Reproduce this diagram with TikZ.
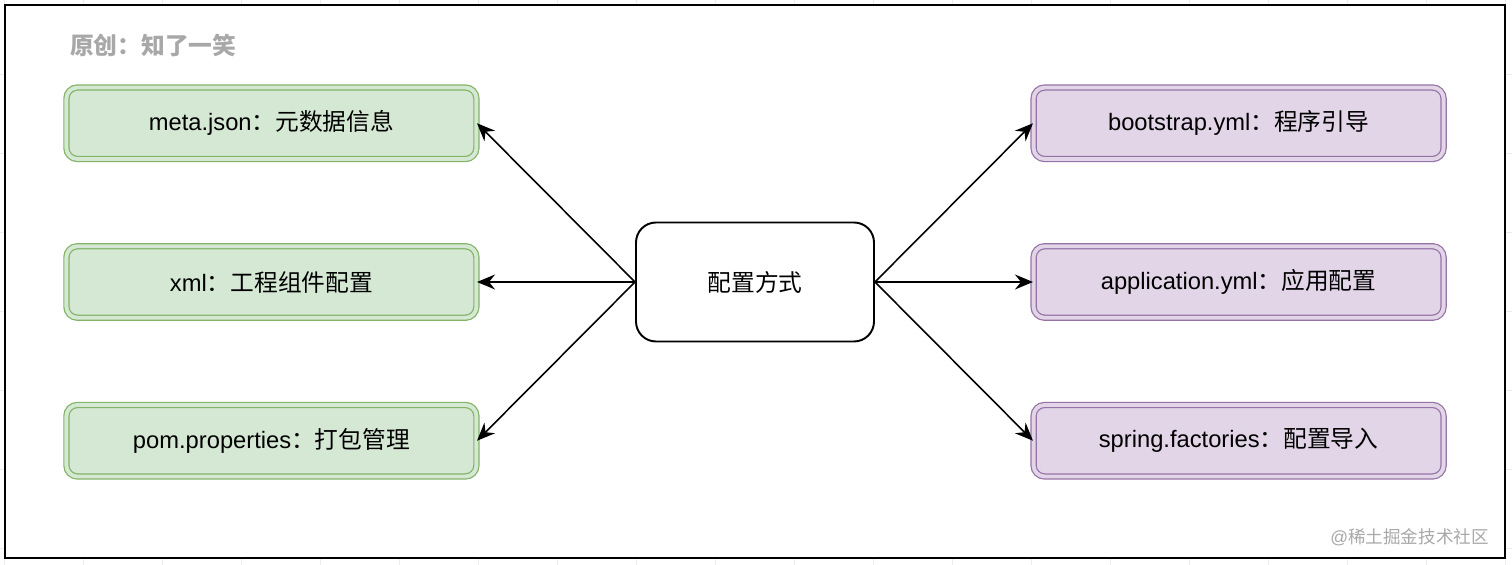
\documentclass[tikz,border=0pt]{standalone}
\usepackage{fontspec}
\setmainfont{Liberation Sans}
\newfontfamily\cjk{Noto Sans CJK SC}
\usepackage{xcolor}
\usepackage{tikz}
\usetikzlibrary{positioning,arrows.meta}
\definecolor{CfgGreen}{HTML}{D5E8D4}
\definecolor{CfgGreenLine}{HTML}{82B366}
\definecolor{CfgPurple}{HTML}{E1D5E7}
\definecolor{CfgPurpleLine}{HTML}{9673A6}
\definecolor{CfgGrey}{HTML}{A8A8A8}
\definecolor{CfgGrid}{HTML}{EDEDED}
\tikzset{
  greencard/.style={rounded corners=0.22cm, draw=CfgGreenLine, double=CfgGreen, double distance=2.2pt, line width=0.7pt, fill=CfgGreen, minimum width=8.2cm, minimum height=1.43cm, align=center, font=\fontsize{13.5}{15}\selectfont},
  purplecard/.style={greencard, draw=CfgPurpleLine, double=CfgPurple, fill=CfgPurple},
  hubbox/.style={rounded corners=0.4cm, draw=black, line width=1.1pt, fill=white, minimum width=4.76cm, minimum height=2.38cm, font=\fontsize{13.5}{15}\selectfont\cjk},
  flowarr/.style={-{Stealth[length=3.6mm, width=3mm, inset=1.2mm]}, line width=0.9pt, draw=black}
}

\begin{document}
\begin{tikzpicture}[node distance=1.72cm]
  \useasboundingbox (0,0) rectangle (30.24,-11.3);
  % background grid and frame
  \draw[CfgGrid, line width=0.5pt, shift={(0.08,0.1)}] (-0.08,-11.4) grid[step=1.58cm] (30.3,0.1);
  \draw[line width=1.1pt, fill=white] (0.1,-0.1) rectangle (30.1,-11.16);
  \node[anchor=west, text=CfgGrey, font=\fontsize{13.5}{15}\selectfont\cjk\bfseries] (title) at (1.28,-0.9) {原创：知了一笑};
  \node[hubbox] (cfg) at (15.1,-5.64) {配置方式};
  \node[greencard, left=3.16cm of cfg] (xml) {xml\cjk：工程组件配置};
  \node[greencard, above=of xml] (meta) {meta.json\cjk：元数据信息};
  \node[greencard, below=of xml] (pom) {pom.properties\cjk：打包管理};
  \node[purplecard, right=3.16cm of cfg] (app) {application.yml\cjk：应用配置};
  \node[purplecard, above=of app] (boot) {bootstrap.yml\cjk：程序引导};
  \node[purplecard, below=of app] (spring) {spring.factories\cjk：配置导入};
  \draw[flowarr] (cfg.west) -- (meta.east);
  \draw[flowarr] (cfg.west) -- (xml.east);
  \draw[flowarr] (cfg.west) -- (pom.east);
  \draw[flowarr] (cfg.east) -- (boot.west);
  \draw[flowarr] (cfg.east) -- (app.west);
  \draw[flowarr] (cfg.east) -- (spring.west);
  \node[anchor=east, text=CfgGrey, font=\fontsize{10}{12}\selectfont] (mark) at (29.9,-10.74) {@\cjk 稀土掘金技术社区};
\end{tikzpicture}
\end{document}
